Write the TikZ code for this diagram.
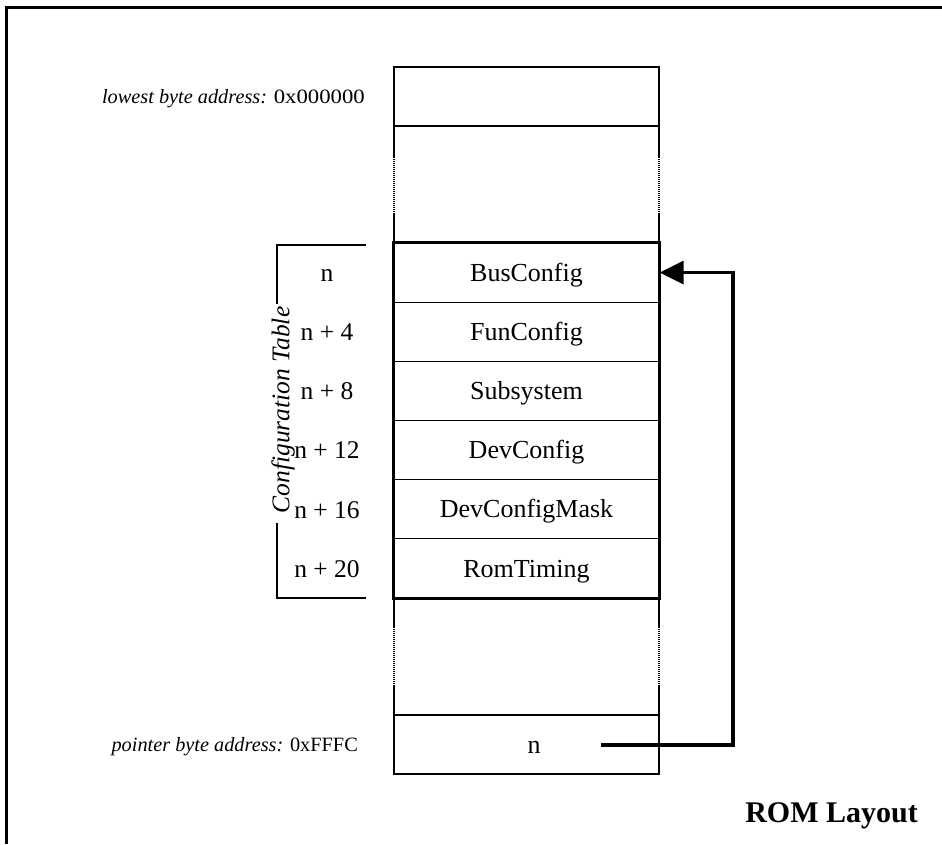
\documentclass[tikz,border=0pt]{standalone}
\usepackage{fontspec}
\setmainfont{Liberation Serif}
\usetikzlibrary{arrows.meta}
\newcommand{\wide}[1]{\scalebox{1.12}[1]{#1}}
\begin{document}
\begin{tikzpicture}[x=1pt,y=-1pt,
  lbl/.style={font=\fontsize{25.5}{30}\selectfont, inner sep=0pt, anchor=base},
  addr/.style={font=\fontsize{20.3}{24}\selectfont, inner sep=0pt, anchor=base east},
  cell/.style={draw, line width=1.3pt, minimum width=265pt, minimum height=59.17pt,
               inner sep=0pt},
  celltext/.style={font=\fontsize{26}{30}\selectfont, inner sep=0pt, anchor=base},
  thinline/.style={line width=1.3pt},
  dotline/.style={line width=1.3pt, dash pattern=on 1pt off 1pt},
  thick frame/.style={line width=3pt},
  link/.style={line width=3.5pt, -{Triangle[length=24pt,width=23pt]}}]
\useasboundingbox (0,0) rectangle (942,844);

% page frame: top and left rules
\draw[line width=3pt] (5.3,7.5) -- (942,7.5);
\draw[line width=2.6pt] (6.5,6) -- (6.5,844);

% lowest address slot
\node[cell, minimum height=59pt] (low) at (526.5,96.5) {};
\node[addr] (lowlbl) at (365,103.3) {\textit{lowest byte address:} \wide{0x000000}};

% gap above the table
\foreach \x in {394,659} {
  \draw[thinline] (\x,126) -- (\x,157);
  \draw[dotline] (\x,157) -- (\x,214);
  \draw[thinline] (\x,214) -- (\x,243);
}

% configuration table rows
\node[cell] (bus)  at (526.5,272.58) {};
\node[cell] (fun)  at (526.5,331.75) {};
\node[cell] (sub)  at (526.5,390.92) {};
\node[cell] (dev)  at (526.5,450.08) {};
\node[cell] (mask) at (526.5,509.25) {};
\node[cell] (rom)  at (526.5,568.42) {};
\draw[thick frame] (bus.north west) rectangle (rom.south east);

\node[celltext] (tbus)  at ([yshift=-8.6pt]bus.center)  {BusConfig};
\node[celltext] (tfun)  at ([yshift=-8.6pt]fun.center)  {FunConfig};
\node[celltext] (tsub)  at ([yshift=-8.6pt]sub.center)  {Subsystem};
\node[celltext] (tdev)  at ([yshift=-8.6pt]dev.center)  {DevConfig};
\node[celltext] (tmask) at ([yshift=-8.6pt]mask.center) {DevConfigMask};
\node[celltext] (trom)  at ([yshift=-8.6pt]rom.center)  {RomTiming};

% offsets
\coordinate (col) at (327,0);
\node[lbl] (o0)  at ([yshift=-8.8pt]col |- bus)  {n};
\node[lbl] (o4)  at ([yshift=-8.8pt]col |- fun)  {n + 4};
\node[lbl] (o8)  at ([yshift=-8.8pt]col |- sub)  {n + 8};
\node[lbl] (o12) at ([yshift=-8.8pt]col |- dev)  {n + 12};
\node[lbl] (o16) at ([yshift=-8.8pt]col |- mask) {n + 16};
\node[lbl] (o20) at ([yshift=-8.8pt]col |- rom)  {n + 20};

% bracket and caption of the table
\draw[thinline] (366,245) -- (277,245) -- (277,304);
\draw[thinline] (277,523) -- (277,598) -- (366,598);
\node[font=\fontsize{25.5}{30}\selectfont\itshape, inner sep=0pt, rotate=90] (cfg) at (283,410) {Configuration Table};

% gap below the table
\foreach \x in {394,659} {
  \draw[thinline] (\x,598) -- (\x,627);
  \draw[dotline] (\x,627) -- (\x,685);
  \draw[thinline] (\x,685) -- (\x,715);
}

% pointer slot
\node[cell, minimum height=59pt] (ptr) at (526.5,744.5) {};
\node[celltext] (ptrval) at (534,753.2) {n};
\node[addr] (ptrlbl) at (358,751.7) {\textit{pointer byte address:} 0xFFFC};

% pointer back to the table
\coordinate (ptrstart) at (601,745);
\coordinate (rail) at (733,0);
\draw[link] (ptrstart) -- (ptrstart -| rail) -- (bus.east -| rail) -- (bus.east);

% title
\node[font=\fontsize{30}{34}\selectfont\bfseries, inner sep=0pt, anchor=base east] (title) at (918,822) {ROM Layout};
\end{tikzpicture}
\end{document}
